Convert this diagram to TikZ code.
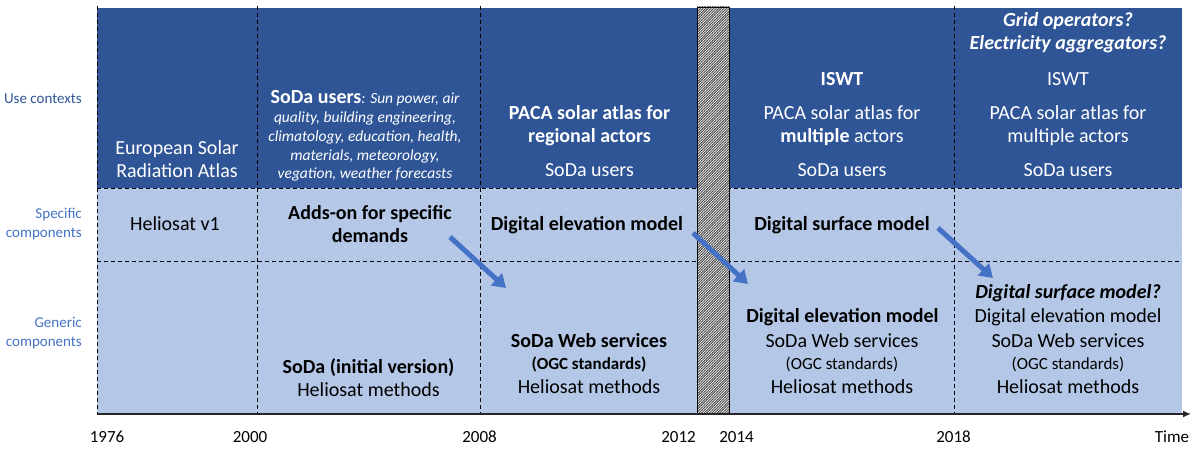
\documentclass[tikz,border=0pt]{standalone}
\usepackage{fontspec}
\setmainfont{Carlito}
\usetikzlibrary{arrows.meta,patterns}

\definecolor{darkband}{RGB}{47,85,151}
\definecolor{lightband}{RGB}{180,199,231}
\definecolor{arrowblue}{RGB}{68,114,196}
\definecolor{spot}{RGB}{212,223,242}
\definecolor{axisgray}{RGB}{38,38,38}

\pgfdeclarepatternformonly{spots}{\pgfqpoint{-1pt}{-1pt}}{\pgfqpoint{1pt}{1pt}}{\pgfqpoint{9.6pt}{9.6pt}}{%
  \pgfpathcircle{\pgfpointorigin}{0.7pt}\pgfusepath{fill}}
\pgfdeclarepatternformonly{finehatch}{\pgfqpoint{-1pt}{-1pt}}{\pgfqpoint{3pt}{3pt}}{\pgfqpoint{2.6pt}{2.6pt}}{%
  \pgfsetlinewidth{0.8pt}
  \pgfpathmoveto{\pgfqpoint{-0.5pt}{-0.5pt}}\pgfpathlineto{\pgfqpoint{3.1pt}{3.1pt}}\pgfusepath{stroke}}

\tikzset{
  txt/.style={inner sep=0pt, align=center, font=\fontsize{20}{23}\selectfont},
  wtxt/.style={txt, text=white},
  small/.style={inner sep=0pt, align=center, font=\fontsize{17}{20}\selectfont},
  side/.style={inner sep=0pt, anchor=east, align=right, font=\fontsize{15}{19}\selectfont},
  year/.style={inner sep=0pt, font=\fontsize{17}{20}\selectfont},
  divider/.style={dash pattern=on 4pt off 3pt, line width=0.9pt},
  fatarrow/.style={arrowblue, line width=5pt, -{Triangle[width=16pt,length=13pt]}}
}

\begin{document}
\begin{tikzpicture}[x=1pt,y=-1pt]
\useasboundingbox (0,0) rectangle (1192,449);

% bands
\fill[darkband] (97,8) rectangle (1182,188);
\fill[lightband] (97,188) rectangle (1182,414);
\fill[pattern=spots, pattern color=spot] (97,188) rectangle (1182,261);

% dashed grid
\draw[divider] (97,188) -- (1182,188) (97,261) -- (1182,261);
\foreach \x in {97,257,480,954}
  \draw[divider] (\x,6) -- (\x,414);

% gap in the timeline
\fill[white] (697,7) rectangle (729,414);
\fill[pattern=finehatch, pattern color=black!70] (697,7) rectangle (729,414);
\draw[line width=0.9pt] (697,7) rectangle (729,414);

% time axis
\coordinate (t0) at (97,414);
\coordinate (tend) at (1191,414);
\draw[axisgray, line width=1.5pt, -{Latex[length=8pt,width=7pt]}] (t0) -- (tend);

% row labels
\node[side, text=darkband] (usectx) at (82,99) {Use contexts};
\node[side, text=arrowblue] (speccomp) at (82,224) {Specific\\components};
\node[side, text=arrowblue] (gencomp) at (82,333.5) {Generic\\components};

% 1976
\node[wtxt] (esra) at (177,159) {European Solar\\Radiation Atlas};
\node[txt] (helio1) at (175,224) {Heliosat v1};

% 2000
\node[inner sep=0pt, align=center, text=white, font=\fontsize{15.5}{18.8}\selectfont\itshape] (sodausers) at (365,136)
  {{\fontsize{20}{18.8}\selectfont\upshape\bfseries SoDa users}: Sun power, air\\
   quality, building engineering,\\ climatology, education, health,\\
   materials, meteorology,\\ vegation, weather forecasts};
\node[txt, font=\fontsize{20}{23}\selectfont\bfseries] (addson) at (370,224) {Adds-on for specific\\demands};
\node[txt] (sodainit) at (368.5,378) {\textbf{SoDa (initial version)}\\Heliosat methods};

% 2008
\node[wtxt, font=\fontsize{20}{23}\selectfont\bfseries] (paca08) at (589.5,125.5) {PACA solar atlas for\\regional actors};
\node[wtxt] (users08) at (589.5,170) {SoDa users};
\node[txt, font=\fontsize{20}{23}\selectfont\bfseries] (dem08) at (587,225) {Digital elevation model};
\node[txt, font=\fontsize{20}{23}\selectfont\bfseries] (ws08) at (589,341) {SoDa Web services};
\node[small, font=\fontsize{17}{20}\selectfont\bfseries] (ogc08) at (589,364) {(OGC standards)};
\node[txt] (meth08) at (589,387) {Heliosat methods};

% 2014
\node[wtxt, font=\fontsize{20}{23}\selectfont\bfseries] (iswt14) at (842,79) {ISWT};
\node[wtxt] (paca14) at (842,125.5) {PACA solar atlas for\\\textbf{multiple} actors};
\node[wtxt] (users14) at (842,170) {SoDa users};
\node[txt, font=\fontsize{20}{23}\selectfont\bfseries] (dsm14) at (842,225) {Digital surface model};
\node[txt, font=\fontsize{20}{23}\selectfont\bfseries] (dem14) at (842.5,317) {Digital elevation model};
\node[txt] (ws14) at (842,341) {SoDa Web services};
\node[small] (ogc14) at (842,364) {(OGC standards)};
\node[txt] (meth14) at (842,387) {Heliosat methods};

% 2018
\node[wtxt, font=\fontsize{20}{23}\selectfont\bfseries\itshape] (grid18) at (1068,32.5) {Grid operators?\\Electricity aggregators?};
\node[wtxt] (iswt18) at (1068,79) {ISWT};
\node[wtxt] (paca18) at (1068,125.5) {PACA solar atlas for\\multiple actors};
\node[wtxt] (users18) at (1068,170) {SoDa users};
\node[txt, font=\fontsize{20}{23}\selectfont\bfseries\itshape] (dsm18) at (1068,293) {Digital surface model?};
\node[txt] (dem18) at (1068,317) {Digital elevation model};
\node[txt] (ws18) at (1068,341) {SoDa Web services};
\node[small] (ogc18) at (1068,364) {(OGC standards)};
\node[txt] (meth18) at (1068,387) {Heliosat methods};

% specific -> generic
\coordinate (a1s) at (450,237); \coordinate (a1e) at (506,288);
\coordinate (a2s) at (693,233); \coordinate (a2e) at (748,284);
\coordinate (a3s) at (938,228); \coordinate (a3e) at (993,278);
\draw[fatarrow] (a1s) -- (a1e);
\draw[fatarrow] (a2s) -- (a2e);
\draw[fatarrow] (a3s) -- (a3e);

% years
\node[year] (y1976) at (107,437) {1976};
\node[year] (y2000) at (250,437) {2000};
\node[year] (y2008) at (479.5,437) {2008};
\node[year] (y2012) at (678.5,437) {2012};
\node[year] (y2014) at (736.5,437) {2014};
\node[year] (y2018) at (953.5,437) {2018};
\node[year] (ytime) at (1172,437) {Time};
\end{tikzpicture}
\end{document}
